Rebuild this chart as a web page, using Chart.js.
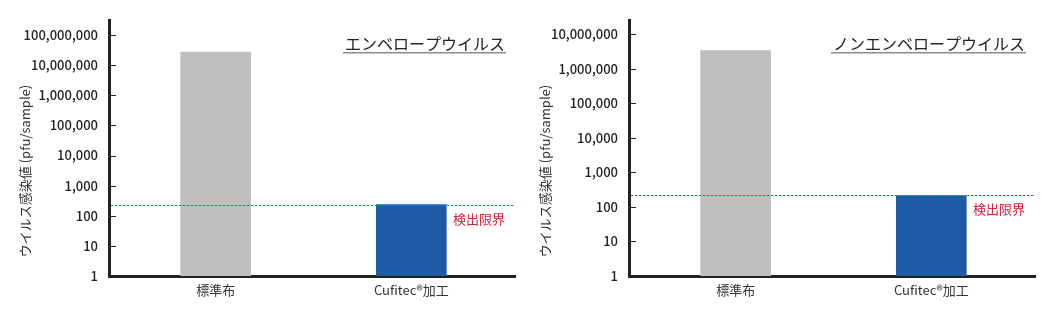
<!DOCTYPE html>
<html>
<head>
<meta charset="utf-8">
<script src="https://cdn.jsdelivr.net/npm/chart.js@4.4.1/dist/chart.umd.min.js"></script>
<style>
  html, body { margin: 0; padding: 0; background: #fff; }
  .wrap { display: flex; width: 1041px; height: 316px; }
  .box { position: relative; height: 316px; }
</style>
</head>
<body>
<div class="wrap">
  <div class="box" style="width:520px"><canvas id="envChart"></canvas></div>
  <div class="box" style="width:521px"><canvas id="nonEnvChart"></canvas></div>
</div>
<script>
// =====================================================
// DATA
// =====================================================
const categories = ["標準布", "Cufitec®加工"];

const envelopeTitle = "エンベロープウイルス";
const envelopeValues = [27000000, 235];
const envelopeLimit = 235;
const envelopeTicks = [1, 10, 100, 1000, 10000, 100000, 1000000, 10000000, 100000000];
const envelopeMax = 316000000;

const nonEnvelopeTitle = "ノンエンベロープウイルス";
const nonEnvelopeValues = [3400000, 215];
const nonEnvelopeLimit = 215;
const nonEnvelopeTicks = [1, 10, 100, 1000, 10000, 100000, 1000000, 10000000];
const nonEnvelopeMax = 26000000;

const yTitle = "ウイルス感染値 (pfu/sample)";
const limitLabel = "検出限界";

const barColors = ["#bfbfbf", "#1f5aa6"];
const axisColor = "#222";
const limitColor = "#ec2a45";
const limitTextColor = "#d9213f";
const FONT = "'Noto Sans CJK JP', 'Noto Sans', sans-serif";

// =====================================================
// PLUGIN: inner ticks, detection limit, titles
// =====================================================
const decorPlugin = {
  id: "decor",
  afterDatasetsDraw(c, args, opts) {
    const { ctx, chartArea } = c;
    const y = c.scales.y;

    // inward tick marks
    ctx.save();
    ctx.strokeStyle = axisColor;
    ctx.lineWidth = 1;
    for (const v of opts.ticks) {
      if (v === 1) continue;
      const py = Math.round(y.getPixelForValue(v)) + 0.5;
      ctx.beginPath();
      ctx.moveTo(chartArea.left, py);
      ctx.lineTo(chartArea.left + 7, py);
      ctx.stroke();
    }
    ctx.restore();

    // detection limit line
    const ly = Math.round(y.getPixelForValue(opts.limit)) + 0.5;
    ctx.save();
    ctx.strokeStyle = limitColor;
    ctx.lineWidth = 1.2;
    ctx.setLineDash([2.5, 1.5]);
    ctx.beginPath();
    ctx.moveTo(chartArea.left + 2, ly);
    ctx.lineTo(chartArea.right, ly);
    ctx.stroke();
    ctx.restore();

    ctx.save();
    ctx.fillStyle = limitTextColor;
    ctx.font = `13px ${FONT}`;
    ctx.textAlign = "right";
    ctx.textBaseline = "middle";
    ctx.fillText(limitLabel, chartArea.right - 10, ly + 14);

    // panel title, underlined
    ctx.font = `16px ${FONT}`;
    ctx.fillStyle = "#222";
    const tx = chartArea.right - 10;
    ctx.fillText(opts.title, tx, 44);
    const w = ctx.measureText(opts.title).width;
    ctx.fillStyle = "#8c8c8c";
    ctx.fillRect(tx - w - 2, 52, w + 3, 1.5);

    // y axis title
    ctx.translate(25, (chartArea.top + chartArea.bottom) / 2 + 23);
    ctx.rotate(-Math.PI / 2);
    ctx.textAlign = "center";
    ctx.fillStyle = "#333";
    ctx.font = `13px ${FONT}`;
    ctx.fillText(yTitle, 0, 0);
    ctx.restore();
  },
};

// =====================================================
// CHART
// =====================================================
function makeChart(id, values, limit, ticks, yMax, title, padRight) {
  const ctx = document.getElementById(id);
  return new Chart(ctx, {
    type: "bar",
    data: {
      datasets: [
        {
          data: values.map((v, i) => ({ x: i, y: v })),
          backgroundColor: barColors,
          barThickness: 70,
          borderWidth: 0,
        },
      ],
    },
    plugins: [decorPlugin],
    options: {
      responsive: true,
      maintainAspectRatio: false,
      animation: false,
      layout: { padding: { top: 20, right: padRight, left: 0, bottom: 0 } },
      plugins: {
        legend: { display: false },
        tooltip: { enabled: false },
        decor: { ticks, limit, title },
      },
      scales: {
        x: {
          type: "linear",
          offset: false,
          min: -0.545,
          max: 1.53,
          afterBuildTicks: (scale) => {
            scale.ticks = categories.map((_, i) => ({ value: i }));
          },
          afterFit: (scale) => {
            scale.height = 40;
          },
          ticks: {
            callback: (v) => categories[v] ?? "",
            color: "#333",
            padding: 6,
            maxRotation: 0,
            font: { family: FONT, size: 13 },
          },
          grid: { display: false, drawTicks: false, offset: false },
          border: { display: true, width: 3, color: axisColor },
        },
        y: {
          type: "logarithmic",
          min: 1,
          max: yMax,
          afterBuildTicks: (scale) => {
            scale.ticks = ticks.map((v) => ({ value: v }));
          },
          afterFit: (scale) => {
            scale.width = 109;
          },
          ticks: {
            callback: (v) => Number(v).toLocaleString("en-US"),
            color: "#222",
            padding: 11,
            font: { family: FONT, size: 13, weight: "500" },
          },
          grid: { display: false, drawTicks: false },
          border: { display: true, width: 3, color: axisColor },
        },
      },
    },
  });
}

makeChart("envChart", envelopeValues, envelopeLimit, envelopeTicks, envelopeMax, envelopeTitle, 5);
makeChart("nonEnvChart", nonEnvelopeValues, nonEnvelopeLimit, nonEnvelopeTicks, nonEnvelopeMax, nonEnvelopeTitle, 6);
</script>
</body>
</html>
